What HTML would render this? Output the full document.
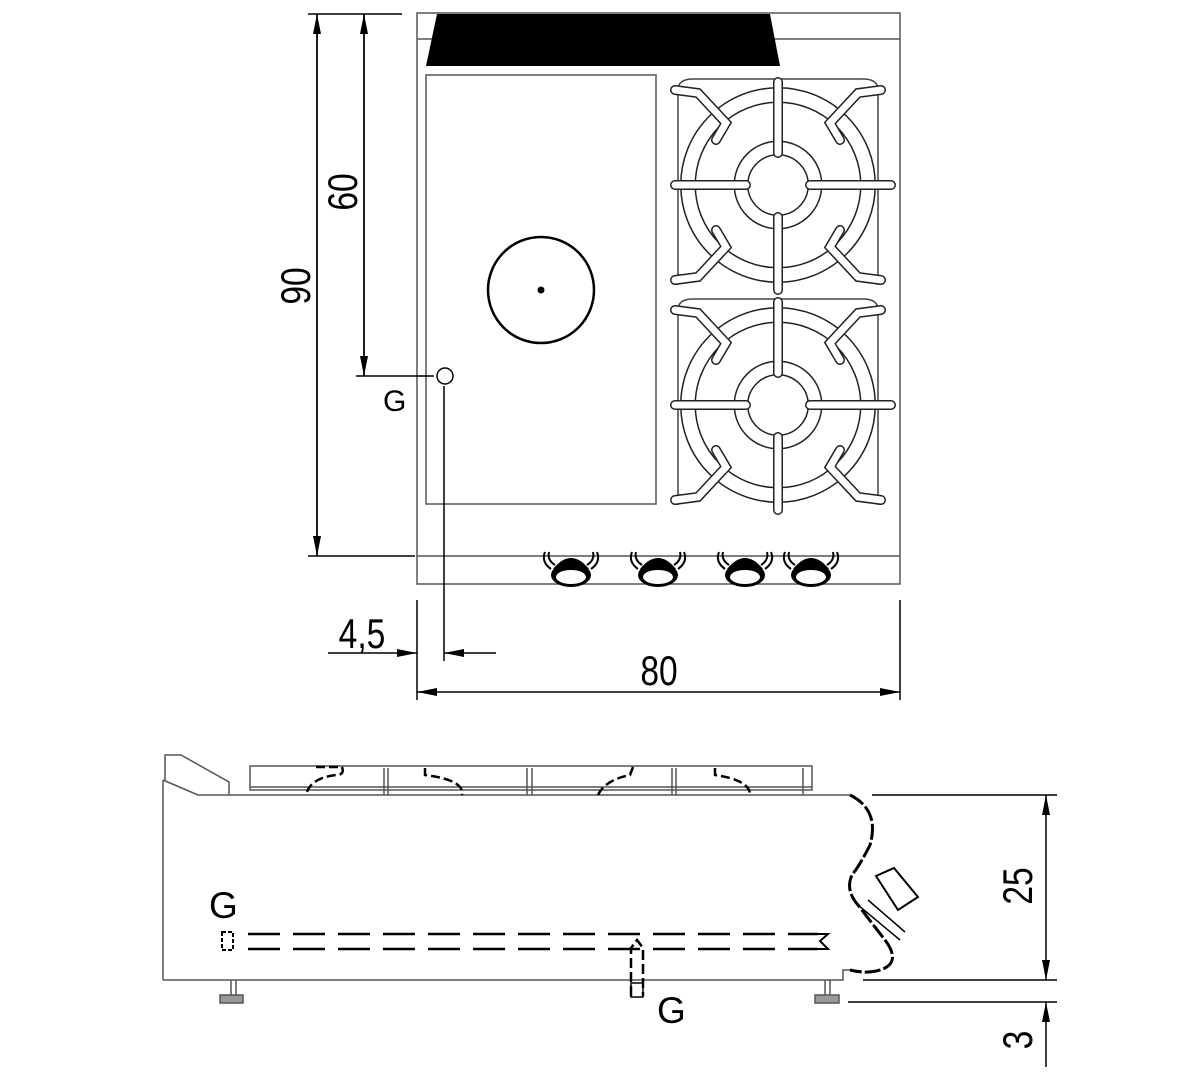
<!DOCTYPE html>
<html><head><meta charset="utf-8"><style>
html,body{margin:0;padding:0;background:#fff;}
svg{display:block;}
.n{font-family:"Liberation Sans",sans-serif;font-size:42px;fill:#000;}
.g{font-family:"Liberation Sans",sans-serif;font-size:30px;fill:#000;}
.g2{font-family:"Liberation Sans",sans-serif;font-size:37px;fill:#000;}
</style></head><body>
<svg width="1200" height="1080" viewBox="0 0 1200 1080" xmlns="http://www.w3.org/2000/svg">
<defs>
<g id="burner">
  <path d="M-100,100 L-100,-95 Q-100,-106 -85,-106 L85,-106 Q100,-106 100,-95 L100,100" fill="none" stroke="#444" stroke-width="1.5"/>
  <circle r="90" fill="none" stroke="#222" stroke-width="16"/>
  <circle r="90" fill="none" stroke="#fff" stroke-width="13"/>
  <circle r="37" fill="none" stroke="#222" stroke-width="15"/>
  <circle r="37" fill="none" stroke="#fff" stroke-width="12"/>
  <g stroke-linecap="round" fill="none">
   <g stroke="#222" stroke-width="10">
    <path d="M-103,-95 L-80,-92 L-52,-62 L-62,-45"/>
    <path d="M103,-95 L80,-92 L52,-62 L62,-45"/>
    <path d="M-103,95 L-80,92 L-52,62 L-62,45"/>
    <path d="M103,95 L80,92 L52,62 L62,45"/>
    <line x1="-103" y1="0" x2="-32" y2="0"/>
    <line x1="32" y1="0" x2="113" y2="0"/>
    <line x1="0" y1="-103" x2="0" y2="-32"/>
    <line x1="0" y1="32" x2="0" y2="105"/>
   </g>
   <g stroke="#fff" stroke-width="7">
    <path d="M-103,-95 L-80,-92 L-52,-62 L-62,-45"/>
    <path d="M103,-95 L80,-92 L52,-62 L62,-45"/>
    <path d="M-103,95 L-80,92 L-52,62 L-62,45"/>
    <path d="M103,95 L80,92 L52,62 L62,45"/>
    <line x1="-103" y1="0" x2="-32" y2="0"/>
    <line x1="32" y1="0" x2="113" y2="0"/>
    <line x1="0" y1="-103" x2="0" y2="-32"/>
    <line x1="0" y1="32" x2="0" y2="105"/>
   </g>
  </g>
</g>
<g id="knob">
  <path d="M-26,-15 Q-30,-5 -20,2 M26,-15 Q30,-5 20,2 M-22,-15 Q-24,-7 -16,-2 M22,-15 Q24,-7 16,-2" fill="none" stroke="#000" stroke-width="2"/>
  <path d="M-18,2 Q0,-20 18,2 Z" fill="#000"/>
  <ellipse cx="0" cy="8" rx="20" ry="12" fill="#000"/>
  <ellipse cx="0" cy="10" rx="15" ry="7" fill="#fff"/>
</g>
<marker id="a" viewBox="0 0 20 8" refX="20" refY="4" markerWidth="20" markerHeight="8" orient="auto" markerUnits="userSpaceOnUse"><path d="M0,0 L20,4 L0,8 Z" fill="#000"/></marker>
</defs>

<rect x="417" y="13" width="483" height="571" fill="none" stroke="#555" stroke-width="1.5"/>
<line x1="417" y1="39" x2="900" y2="39" stroke="#555" stroke-width="1.5"/>
<polygon points="437,14 770,14 780,66 426,66" fill="#000"/>
<rect x="426" y="75" width="230" height="429" fill="none" stroke="#555" stroke-width="1.5"/>
<line x1="417" y1="556" x2="900" y2="556" stroke="#555" stroke-width="1.5"/>
<circle cx="541" cy="290" r="53" fill="none" stroke="#000" stroke-width="2.5"/>
<circle cx="541" cy="290" r="3.5" fill="#000"/>
<use href="#burner" x="778" y="185"/>
<use href="#burner" x="778" y="405"/>
<use href="#knob" x="571" y="567"/>
<use href="#knob" x="658" y="567"/>
<use href="#knob" x="745" y="567"/>
<use href="#knob" x="811" y="567"/>

<g stroke="#000" stroke-width="1.5" fill="none">
 <line x1="308" y1="14" x2="402" y2="14"/>
 <line x1="308" y1="556" x2="415" y2="556"/>
 <line x1="317" y1="556" x2="317" y2="14" marker-end="url(#a)"/>
 <line x1="317" y1="14" x2="317" y2="556" marker-end="url(#a)"/>
 <line x1="364" y1="376" x2="364" y2="14" marker-end="url(#a)"/>
 <line x1="364" y1="14" x2="364" y2="376" marker-end="url(#a)"/>
 <line x1="356" y1="376" x2="434" y2="376"/>
 <circle cx="445" cy="376" r="8"/>
 <line x1="444" y1="386" x2="444" y2="661"/>
 <line x1="417" y1="600" x2="417" y2="700"/>
 <line x1="900" y1="600" x2="900" y2="700"/>
 <line x1="328" y1="653" x2="417" y2="653" marker-end="url(#a)"/>
 <line x1="496" y1="653" x2="444" y2="653" marker-end="url(#a)"/>
 <line x1="660" y1="692" x2="417" y2="692" marker-end="url(#a)"/>
 <line x1="660" y1="692" x2="900" y2="692" marker-end="url(#a)"/>
</g>
<text class="n" transform="translate(310,286) rotate(-90) scale(0.8,1)" text-anchor="middle">90</text>
<text class="n" transform="translate(357,192) rotate(-90) scale(0.8,1)" text-anchor="middle">60</text>
<text class="g" x="383" y="411">G</text>
<text class="n" transform="translate(362,648) scale(0.8,1)" text-anchor="middle">4,5</text>
<text class="n" transform="translate(659,685) scale(0.8,1)" text-anchor="middle">80</text>

<g stroke="#555" stroke-width="1.5" fill="none">
 <path d="M163,980 L163,780 M163,780 L198,795 L850,795 M165,780 L165,755 L181,755 L229,782 L229,795"/>
 <path d="M163,980 L843,980 L843,970 L850,970"/>
 <rect x="250" y="766" width="562" height="24"/>
 <line x1="250" y1="787" x2="812" y2="787"/>
 <path d="M384,768 L384,795 M388,768 L388,795 M527,768 L527,795 M532,768 L532,795 M672,768 L672,795 M676,768 L676,795 M803,768 L803,795"/>
 <line x1="231" y1="980" x2="231" y2="995"/><line x1="236" y1="980" x2="236" y2="995"/>
 <rect x="220" y="995" width="23" height="8" fill="#999"/>
 <line x1="825" y1="980" x2="825" y2="995"/><line x1="830" y1="980" x2="830" y2="995"/>
 <rect x="815" y="995" width="24" height="8" fill="#999"/>
 <path d="M850,795 Q880,810 870,845 Q860,865 852,875 Q845,890 858,905 L885,940 Q900,960 885,968 Q870,975 850,970" stroke="#000" stroke-width="3" stroke-dasharray="16,3"/>
 <path d="M858,905 L900,940 M868,900 L905,932" stroke="#000" stroke-width="1.5"/>
 <path d="M876,876 L894,868 L918,897 L898,910 Z" stroke="#000" stroke-width="2"/>
</g>
<g stroke="#000" stroke-width="2.5" fill="none" stroke-dasharray="32,13">
 <line x1="248" y1="934" x2="818" y2="934"/>
 <line x1="248" y1="949" x2="818" y2="949"/>
 <path d="M316,767 L342,767 Q345,775 336,775 Q310,778 306,795" stroke-dasharray="9,4"/>
 <path d="M425,768 L425,775 Q465,780 462,795" stroke-dasharray="9,4"/>
 <path d="M598,795 Q605,780 630,775 L633,767" stroke-dasharray="9,4"/>
 <path d="M715,768 L715,775 Q750,780 750,795" stroke-dasharray="9,4"/>
 <path d="M631,996 L631,948 L637,940 L643,948 L643,996" stroke-dasharray="10,4"/>
</g>
<path d="M222,932 L233,932 L233,950 L222,950 Z" fill="none" stroke="#000" stroke-width="2" stroke-dasharray="4,2"/>
<path d="M812,934 L828,934 L820,941 L828,949 L812,949" fill="none" stroke="#000" stroke-width="2"/>
<rect x="631" y="983" width="12" height="14" fill="none" stroke="#000" stroke-width="1.5"/>
<text class="g2" x="209" y="918">G</text>
<text class="g2" x="657" y="1023">G</text>

<g stroke="#000" stroke-width="1.5" fill="none">
 <line x1="872" y1="795" x2="1057" y2="795"/>
 <line x1="863" y1="980" x2="1057" y2="980"/>
 <line x1="848" y1="1002" x2="1057" y2="1002"/>
 <line x1="1046" y1="890" x2="1046" y2="795" marker-end="url(#a)"/>
 <line x1="1046" y1="890" x2="1046" y2="980" marker-end="url(#a)"/>
 <line x1="1046" y1="1067" x2="1046" y2="1002" marker-end="url(#a)"/>
</g>
<text class="n" transform="translate(1032,886) rotate(-90) scale(0.8,1)" text-anchor="middle">25</text>
<text class="n" transform="translate(1032,1040) rotate(-90) scale(0.8,1)" text-anchor="middle">3</text>
</svg>
</body></html>
